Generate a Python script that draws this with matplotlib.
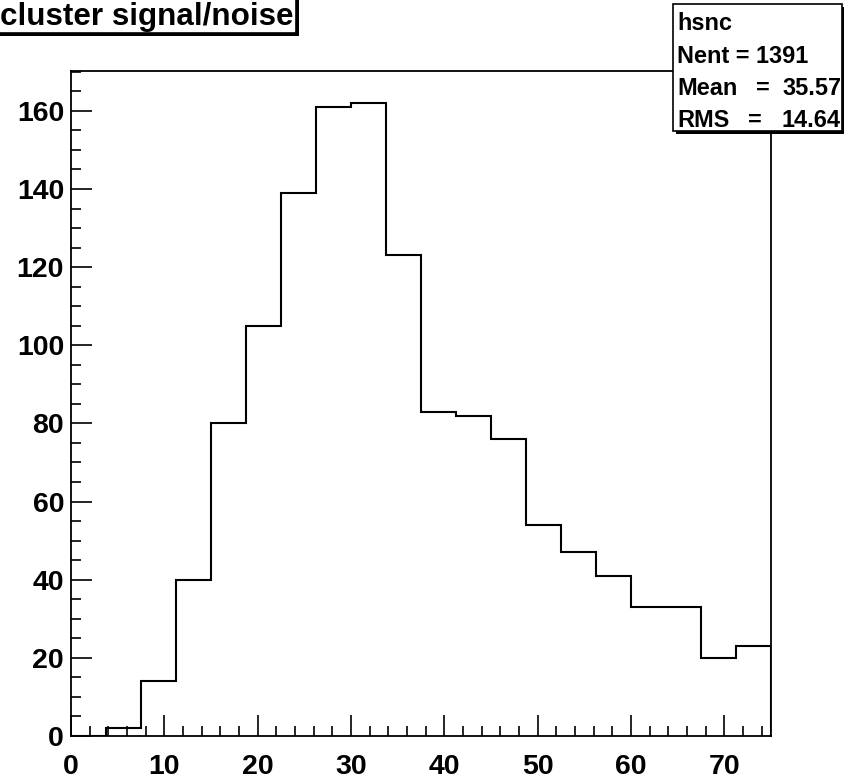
import numpy as np
import matplotlib
matplotlib.use('Agg')
import matplotlib.pyplot as plt
from matplotlib.patches import Rectangle
from matplotlib.ticker import MultipleLocator

plt.rcParams['font.family'] = ['Liberation Sans', 'DejaVu Sans']
plt.rcParams['font.weight'] = 'bold'

# histogram contents (20 bins from 0 to 75)
bin_edges = np.linspace(0, 75, 21)
counts = [0, 2, 14, 40, 80, 105, 139, 161, 162, 123,
          83, 82, 76, 54, 47, 41, 33, 33, 20, 23]

title = 'cluster signal/noise'
hist_name = 'hsnc'
nent_text = 'Nent = 1391'
stat_labels = ['Mean', 'RMS']
stat_values = ['35.57', '14.64']

W, H = 845, 779
fig = plt.figure(figsize=(W / 100, H / 100), dpi=100)
ax = fig.add_axes([71 / W, 1 - 736 / H, 700 / W, 665 / H])

ax.stairs(counts, bin_edges, color='black', linewidth=1.5, baseline=0)
ax.set_xlim(0, 75)
ax.set_ylim(0, 170.2)

ax.xaxis.set_major_locator(MultipleLocator(10))
ax.xaxis.set_minor_locator(MultipleLocator(2))
ax.yaxis.set_major_locator(MultipleLocator(20))
ax.yaxis.set_minor_locator(MultipleLocator(5))
ax.tick_params(which='both', direction='in', top=False, right=False,
               width=1.2, labelsize=20.5)
ax.tick_params(which='major', length=15)
ax.tick_params(which='minor', length=7.5)
ax.tick_params(axis='x', pad=13)
ax.tick_params(axis='y', pad=5)
for lab in ax.get_xticklabels() + ax.get_yticklabels():
    lab.set_fontweight('bold')
for s in ax.spines.values():
    s.set_linewidth(1.3)


def shadow_box(x0, y0, x1, y1):
    # pixel coords, y from top
    sh = 3
    fig.patches.append(Rectangle((x0 + sh, H - y1 - sh), x1 - x0, y1 - y0,
                                 transform=None, facecolor='black',
                                 edgecolor='none', zorder=1))
    fig.patches.append(Rectangle((x0, H - y1), x1 - x0, y1 - y0,
                                 transform=None, facecolor='white',
                                 edgecolor='black', linewidth=1.2, zorder=2))


shadow_box(-5, -5, 296, 33)
fig.text(0, 1 - 25 / H, title, fontsize=22.6, fontweight='bold',
         va='baseline', ha='left', zorder=3)

shadow_box(673, 4, 842, 131)
fs = 16.9
fig.text(677 / W, 1 - 30 / H, hist_name, fontsize=fs, fontweight='bold',
         va='baseline', ha='left', zorder=3)
fig.text(677 / W, 1 - 63 / H, nent_text, fontsize=fs, fontweight='bold',
         va='baseline', ha='left', zorder=3)
for lab, val, y, xeq in zip(stat_labels, stat_values, [95, 127], [756, 748]):
    fig.text(677 / W, 1 - y / H, lab, fontsize=fs, fontweight='bold',
             va='baseline', ha='left', zorder=3)
    fig.text(xeq / W, 1 - y / H, '=', fontsize=fs, fontweight='bold',
             va='baseline', ha='left', zorder=3)
    fig.text(841 / W, 1 - y / H, val, fontsize=fs, fontweight='bold',
             va='baseline', ha='right', zorder=3)

fig.savefig('out.png', dpi=100)
